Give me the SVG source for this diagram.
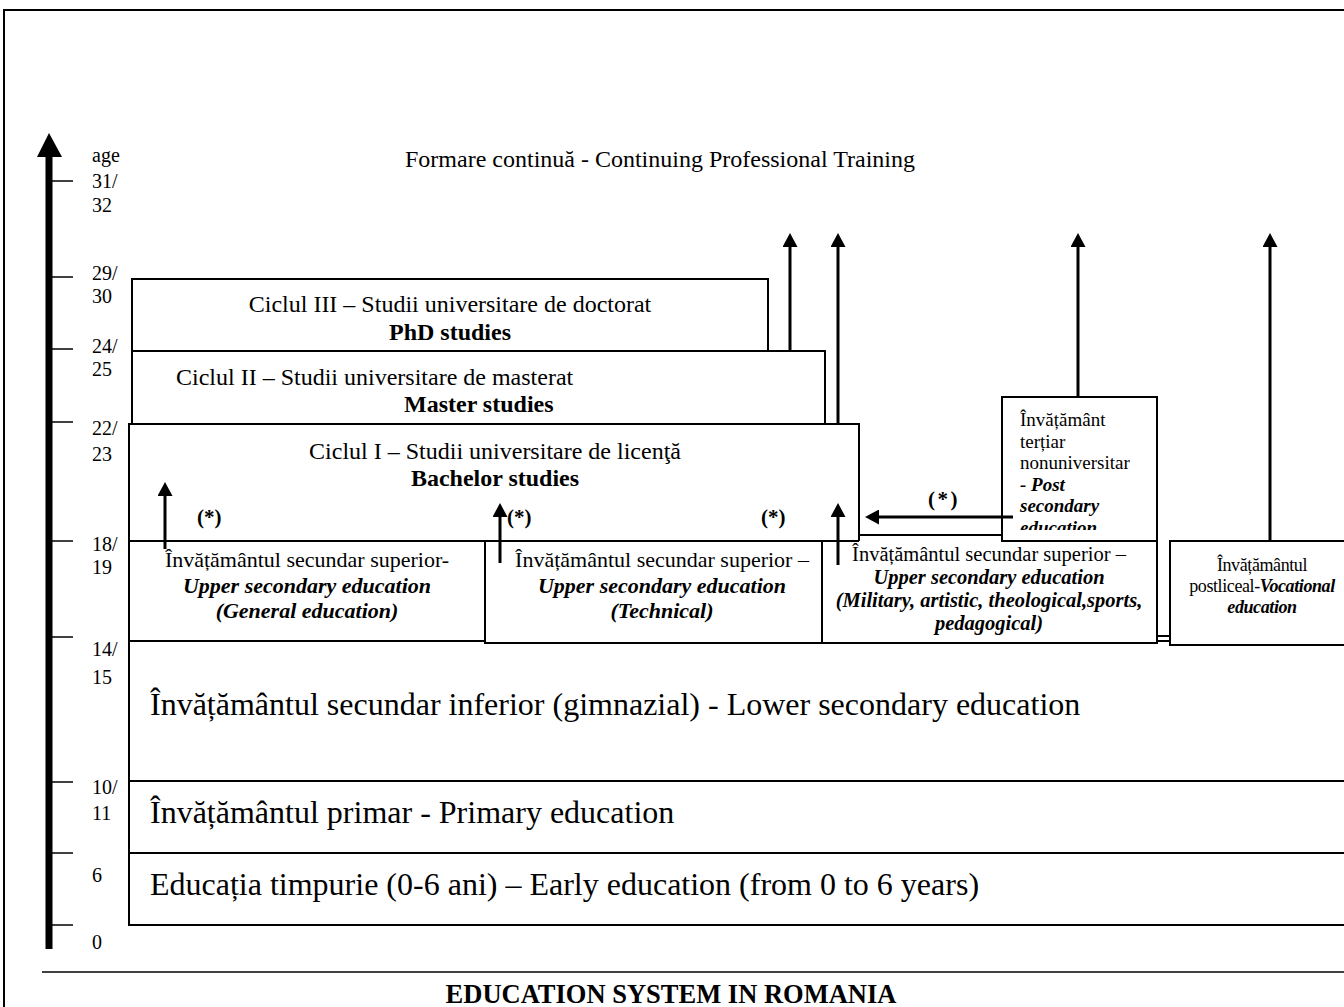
<svg xmlns="http://www.w3.org/2000/svg" width="1344" height="1007" viewBox="0 0 1344 1007">
<style>
text{font-family:"Liberation Serif","Times New Roman",serif;fill:#000}
.box{fill:#fff;stroke:#000;stroke-width:2}
.ln{fill:none;stroke:#000;stroke-width:2}
.age{font-size:20px}
.c24{font-size:24px}
.b24{font-size:24px;font-weight:bold}
.t22{font-size:22px}
.bi22{font-size:22px;font-weight:bold;font-style:italic}
.t20{font-size:20.5px}
.bi20{font-size:20.5px;font-weight:bold;font-style:italic}
.t19{font-size:19px}
.t18{font-size:18px}
.big{font-size:32px}
.star{font-size:21px;font-weight:bold}
.arr{fill:none;stroke:#000;stroke-width:3}
.tick{stroke:#000;stroke-width:1.5}
</style>
<defs>
<marker id="ah" viewBox="0 0 14 15" markerWidth="14" markerHeight="15" markerUnits="userSpaceOnUse" refX="9" refY="7.5" orient="auto">
<path d="M0,0 L14,7.5 L0,15 Z" fill="#000"/>
</marker>
<clipPath id="tclip"><rect x="1002" y="397" width="156" height="133"/></clipPath>
</defs>
<rect width="1344" height="1007" fill="#fff"/>
<!-- frame -->
<path class="ln" d="M4,1007 V10 H1344"/>
<!-- age axis -->
<g id="axis">
<rect x="45.5" y="150" width="7" height="799" fill="#000"/>
<polygon points="37,157 49,133 62,157" fill="#000"/>
<g class="tick">
<line x1="52" y1="181" x2="73" y2="181"/>
<line x1="52" y1="277" x2="73" y2="277"/>
<line x1="52" y1="349" x2="73" y2="349"/>
<line x1="52" y1="422" x2="73" y2="422"/>
<line x1="52" y1="541" x2="73" y2="541"/>
<line x1="52" y1="637" x2="73" y2="637"/>
<line x1="52" y1="782" x2="73" y2="782"/>
<line x1="52" y1="853" x2="73" y2="853"/>
<line x1="52" y1="925" x2="73" y2="925"/>
</g>
<g class="age">
<text x="92" y="162">age</text>
<text x="92" y="188">31/</text>
<text x="92" y="212">32</text>
<text x="92" y="280">29/</text>
<text x="92" y="303">30</text>
<text x="92" y="353">24/</text>
<text x="92" y="376">25</text>
<text x="92" y="435">22/</text>
<text x="92" y="461">23</text>
<text x="92" y="551">18/</text>
<text x="92" y="574">19</text>
<text x="92" y="656">14/</text>
<text x="92" y="684">15</text>
<text x="92" y="794">10/</text>
<text x="92" y="820">11</text>
<text x="92" y="882">6</text>
<text x="92" y="949">0</text>
</g>
</g>
<g id="continuing">
<text class="c24" x="405" y="167">Formare continuă - Continuing Professional Training</text>
</g>
<g id="phd">
<rect class="box" x="132" y="279" width="636" height="72"/>
<text class="c24" x="450" y="312" text-anchor="middle">Ciclul III – Studii universitare de doctorat</text>
<text class="b24" x="450" y="340" text-anchor="middle">PhD studies</text>
</g>
<g id="master">
<rect class="box" x="132" y="351" width="693" height="73"/>
<text class="c24" x="176" y="385">Ciclul II – Studii universitare de masterat</text>
<text class="b24" x="404" y="412">Master studies</text>
</g>
<g id="bachelor">
<rect class="box" x="129" y="424" width="730" height="117"/>
<text class="c24" x="495" y="459" text-anchor="middle">Ciclul I – Studii universitare de licenţă</text>
<text class="b24" x="495" y="486" text-anchor="middle">Bachelor studies</text>
</g>
<g id="lower-secondary">
<rect class="box" x="129" y="641" width="1225" height="140"/>
<text class="big" x="150" y="715">Învățământul secundar inferior (gimnazial) - Lower secondary education</text>
</g>
<g id="primary">
<rect class="box" x="129" y="781" width="1225" height="72"/>
<text class="big" x="150" y="823">Învățământul primar - Primary education</text>
</g>
<g id="early">
<rect class="box" x="129" y="853" width="1225" height="72"/>
<text class="big" x="150" y="895">Educația timpurie (0-6 ani) – Early education (from 0 to 6 years)</text>
</g>
<g id="upper-general">
<rect class="box" x="129" y="541" width="356" height="100"/>
<text class="t22" x="307" y="567" text-anchor="middle">Învățământul secundar superior-</text>
<text class="bi22" x="307" y="593" text-anchor="middle">Upper secondary education</text>
<text class="bi22" x="307" y="618" text-anchor="middle">(General education)</text>
</g>
<g id="upper-technical">
<rect class="box" x="485" y="541" width="337" height="102"/>
<text class="t22" x="662" y="567" text-anchor="middle">Învățământul secundar superior –</text>
<text class="bi22" x="662" y="593" text-anchor="middle">Upper secondary education</text>
<text class="bi22" x="662" y="618" text-anchor="middle">(Technical)</text>
</g>
<g id="upper-special">
<path d="M822,541 H1157 V643 H822 Z" fill="#fff" stroke="none"/>
<path class="ln" d="M859,541 H822 V643 H1157 V541"/>
<text class="t20" x="989" y="561" text-anchor="middle">Învățământul secundar superior –</text>
<text class="bi20" x="989" y="584" text-anchor="middle">Upper secondary education</text>
<text class="bi20" x="989" y="607" text-anchor="middle">(Military, artistic, theological,sports,</text>
<text class="bi20" x="989" y="630" text-anchor="middle">pedagogical)</text>
</g>
<g id="post-secondary">
<rect class="box" x="1002" y="397" width="155" height="144"/>
<g clip-path="url(#tclip)" class="t19">
<text x="1020" y="426">Învățământ</text>
<text x="1020" y="447.5">terțiar</text>
<text x="1020" y="469">nonuniversitar</text>
<text x="1020" y="490.5" font-weight="bold" font-style="italic">- Post</text>
<text x="1020" y="512" font-weight="bold" font-style="italic">secondary</text>
<text x="1020" y="533.5" font-weight="bold" font-style="italic">education</text>
</g>
</g>
<g id="vocational">
<rect class="box" x="1170" y="541" width="190" height="104"/>
<text class="t18" x="1262" y="571" text-anchor="middle" letter-spacing="-0.4">Învățământul</text>
<text class="t18" x="1262" y="592" text-anchor="middle" letter-spacing="-0.4">postliceal-<tspan font-weight="bold" font-style="italic">Vocational</tspan></text>
<text class="t18" x="1262" y="613" text-anchor="middle" letter-spacing="-0.4" font-weight="bold" font-style="italic">education</text>
</g>
<g id="connectors">
<line class="ln" x1="859" y1="535" x2="1002" y2="535"/>
<line class="ln" x1="1157" y1="636" x2="1170" y2="636"/>
<line class="arr" x1="790" y1="351" x2="790" y2="238" marker-end="url(#ah)"/>
<line class="arr" x1="838" y1="424" x2="838" y2="238" marker-end="url(#ah)"/>
<line class="arr" x1="1078" y1="397" x2="1078" y2="238" marker-end="url(#ah)"/>
<line class="arr" x1="1270" y1="541" x2="1270" y2="238" marker-end="url(#ah)"/>
<line class="arr" x1="165" y1="549" x2="165" y2="487" marker-end="url(#ah)"/>
<line class="arr" x1="500" y1="563" x2="500" y2="508" marker-end="url(#ah)"/>
<line class="arr" x1="838" y1="565" x2="838" y2="508" marker-end="url(#ah)"/>
<line class="arr" x1="1013" y1="517" x2="870" y2="517" marker-end="url(#ah)"/>
<text class="star" x="197" y="524">(*)</text>
<text class="star" x="507" y="524">(*)</text>
<text class="star" x="761" y="524">(*)</text>
<text class="star" x="928" y="506" letter-spacing="2.5">(*)</text>
</g>
<g id="title">
<line class="tick" x1="42" y1="972" x2="1344" y2="972"/>
<text x="671" y="1003" text-anchor="middle" font-size="26.5" font-weight="bold">EDUCATION SYSTEM IN ROMANIA</text>
</g>
</svg>
